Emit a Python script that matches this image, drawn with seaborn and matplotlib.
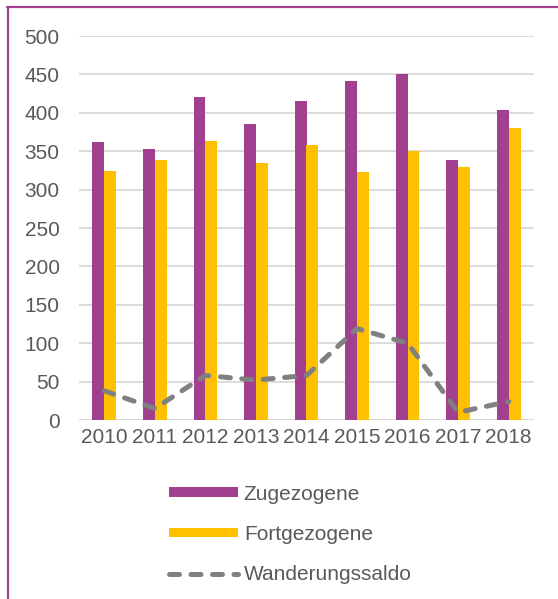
import matplotlib
matplotlib.use("Agg")
import matplotlib.pyplot as plt
from matplotlib.lines import Line2D
from matplotlib.patches import Patch
import numpy as np
import pandas as pd
import seaborn as sns

years = ["2010", "2011", "2012", "2013", "2014", "2015", "2016", "2017", "2018"]
zugezogene = [362, 353, 421, 386, 416, 442, 450, 339, 404]
fortgezogene = [324, 338, 363, 334, 358, 323, 350, 329, 380]
saldo = [38, 15, 58, 52, 58, 119, 100, 10, 24]

PURPLE = "#A0408E"
GOLD = "#FFC000"
GREY_LINE = "#808080"
TEXT = "#595959"
DASH = (0, (2.0, 2.3))

sns.set_style("white")
plt.rcParams['font.family'] = ['Liberation Sans', 'DejaVu Sans']

df = pd.DataFrame({
    "Jahr": years * 2,
    "Wert": zugezogene + fortgezogene,
    "Gruppe": ["Zugezogene"] * len(years) + ["Fortgezogene"] * len(years),
})

fig = plt.figure(figsize=(5.58, 5.99), dpi=100)
ax = fig.add_axes([79 / 558, 1 - 420 / 599, 455 / 558, 384 / 599])

sns.barplot(
    data=df, x="Jahr", y="Wert", hue="Gruppe",
    palette=[PURPLE, GOLD], width=0.47, saturation=1, linewidth=0,
    legend=False, ax=ax, zorder=3,
)
sns.lineplot(
    x=np.arange(len(years)), y=saldo, ax=ax, color=GREY_LINE,
    linewidth=3.6, linestyle=DASH, dash_capstyle="round",
    solid_capstyle="round", zorder=4,
)

ax.set_xlim(-0.5, len(years) - 0.5)
ax.set_ylim(0, 500)
ax.set_yticks(range(0, 501, 50))
ax.yaxis.grid(True, color="#D9D9D9", linewidth=1.3, zorder=0)
ax.set_axisbelow(True)
for side in ["top", "right", "left", "bottom"]:
    ax.spines[side].set_visible(False)
ax.axhline(0, color="#D9D9D9", linewidth=1.3, zorder=1)
ax.tick_params(axis="both", length=0, labelsize=15, colors=TEXT, pad=6)
ax.tick_params(axis="y", pad=14)
ax.set_xlabel("")
ax.set_ylabel("")

handles = [
    Patch(facecolor=PURPLE, edgecolor="none"),
    Patch(facecolor=GOLD, edgecolor="none"),
    Line2D([0], [0], color=GREY_LINE, linewidth=3.6,
           linestyle=DASH, dash_capstyle="round"),
]
leg = fig.legend(
    handles, ["Zugezogene", "Fortgezogene", "Wanderungssaldo"],
    loc="upper left", bbox_to_anchor=(150 / 558, 1 - 466 / 599),
    frameon=False, fontsize=15, labelcolor=TEXT,
    handlelength=3.3, handleheight=0.35, handletextpad=0.3,
    labelspacing=1.02,
)

# purple frame (top and left)
fig.add_artist(Line2D([7 / 558, 1], [1 - 7 / 599, 1 - 7 / 599],
                      transform=fig.transFigure, color=PURPLE, linewidth=1.6))
fig.add_artist(Line2D([7.5 / 558, 7.5 / 558], [0, 1 - 7 / 599],
                      transform=fig.transFigure, color=PURPLE, linewidth=1.6))

fig.savefig("out.png", dpi=100)
plt.close(fig)
